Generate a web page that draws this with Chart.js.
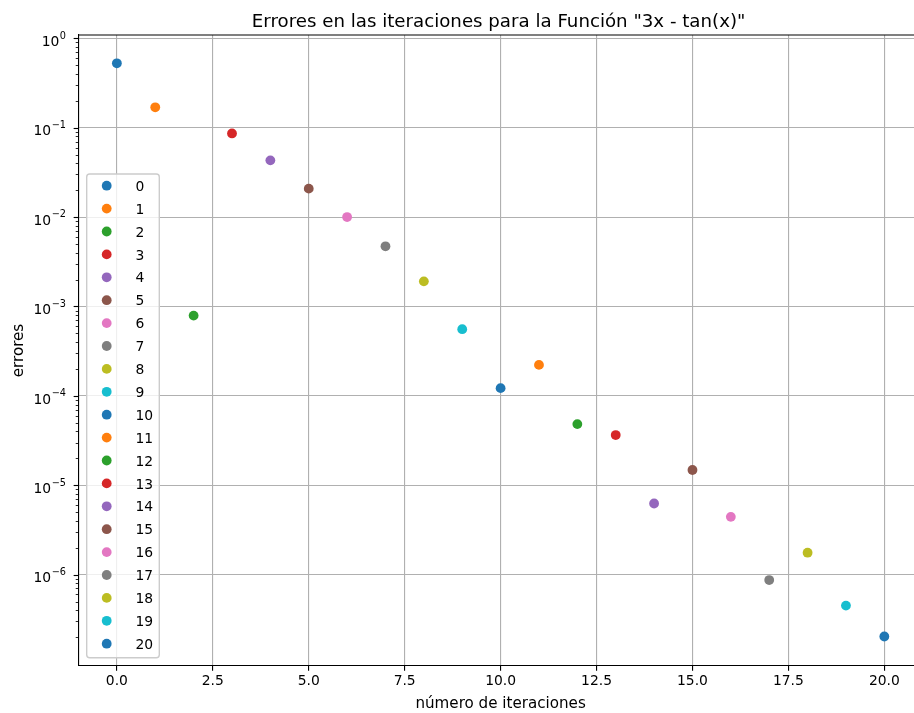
<!DOCTYPE html>
<html>
<head>
<meta charset="utf-8">
<title>Errores en las iteraciones</title>
<script src="https://cdn.jsdelivr.net/npm/chart.js@4/dist/chart.umd.min.js"></script>
<style>
    html, body { margin: 0; padding: 0; overflow: hidden; background: #fff; }
    canvas { display: block; }
</style>
</head>
<body>
<canvas id="chart" width="930" height="713" style="width:930px;height:713px"></canvas>
<script>
"use strict";

// DATA
const iterations = [0, 1, 2, 3, 4, 5, 6, 7, 8, 9, 10, 11, 12, 13, 14, 15, 16, 17, 18, 19, 20];
const errors = [
    0.525, 0.169, 7.9e-4, 0.0863, 0.0431, 0.0208, 0.0100, 0.00471, 0.00191, 5.57e-4,
    1.22e-4, 2.22e-4, 4.83e-5, 3.64e-5, 6.25e-6, 1.48e-5, 4.43e-6, 8.7e-7, 1.76e-6, 4.5e-7, 2.03e-7
];
const xTickValues = [0, 2.5, 5, 7.5, 10, 12.5, 15, 17.5, 20];
const yTickExponents = [0, -1, -2, -3, -4, -5, -6];

const TITLE = "Errores en las iteraciones para la Función \"3x - tan(x)\"";
const X_LABEL = "número de iteraciones";
const Y_LABEL = "errores";

// tab10
const COLORS = ["#1f77b4", "#ff7f0e", "#2ca02c", "#d62728", "#9467bd",
    "#8c564b", "#e377c2", "#7f7f7f", "#bcbd22", "#17becf"];

const FONT = "'DejaVu Sans', sans-serif";
const PT = 100 / 72;

// Axis limits (matplotlib style 5% margins)
const X_MIN = -1;
const X_MAX = 21;
const Y_MIN = 9.5e-8;
const Y_MAX = 1.089;

function drawYTicks(chart) {
    const { ctx } = chart;
    const y = chart.scales.y;
    const left = chart.chartArea.left;
    ctx.save();
    ctx.strokeStyle = "#000";
    // minor ticks
    ctx.lineWidth = 0.6 * PT;
    for (let e = -8; e <= 0; e++) {
        for (let k = 2; k <= 9; k++) {
            const v = k * Math.pow(10, e);
            if (v < Y_MIN || v > Y_MAX) {
                continue;
            }
            const py = Math.round(y.getPixelForValue(v)) + 0.5;
            ctx.beginPath();
            ctx.moveTo(left, py);
            ctx.lineTo(left - 2 * PT, py);
            ctx.stroke();
        }
    }
    // major ticks + labels
    ctx.lineWidth = 0.8 * PT;
    ctx.fillStyle = "#000";
    ctx.textBaseline = "alphabetic";
    const baseSize = 10 * PT;
    const supSize = baseSize * 0.7;
    for (const e of yTickExponents) {
        const py = y.getPixelForValue(Math.pow(10, e));
        ctx.beginPath();
        ctx.moveTo(left, Math.round(py) + 0.5);
        ctx.lineTo(left - 3.5 * PT, Math.round(py) + 0.5);
        ctx.stroke();

        const sup = e === 0 ? "0" : "\u2212" + String(-e);
        ctx.font = `${supSize}px ${FONT}`;
        const supW = ctx.measureText(sup).width;
        ctx.font = `${baseSize}px ${FONT}`;
        const baseW = ctx.measureText("10").width;
        const right = 66;
        ctx.textAlign = "left";
        ctx.fillText("10", right - supW - baseW - 0.5, py + 7.7);
        ctx.font = `${supSize}px ${FONT}`;
        ctx.fillText(sup, right - supW, py + 0.4);
    }
    ctx.restore();
}

function drawLegend(chart) {
    const { ctx } = chart;
    const x0 = 86.7;
    const y0 = 174;
    const w = 72.6;
    const h = 483.7;
    ctx.save();
    ctx.beginPath();
    ctx.roundRect(x0, y0, w, h, 3);
    ctx.fillStyle = "rgba(255,255,255,0.8)";
    ctx.fill();
    ctx.strokeStyle = "#cccccc";
    ctx.lineWidth = 1 * PT;
    ctx.stroke();

    ctx.font = `${10 * PT}px ${FONT}`;
    ctx.textAlign = "left";
    ctx.textBaseline = "alphabetic";
    chart.data.datasets.forEach((ds, i) => {
        const cy = 185.7 + i * 22.9;
        ctx.beginPath();
        ctx.arc(106.7, cy, 4.9, 0, Math.PI * 2);
        ctx.fillStyle = ds.backgroundColor;
        ctx.fill();
        ctx.fillStyle = "#000";
        ctx.fillText(ds.label, 135.5, cy + 5.1);
    });
    ctx.restore();
}

const decorPlugin = {
    id: "decor",
    afterDraw(chart) {
        const { ctx, chartArea } = chart;
        ctx.save();
        // top + right spines
        ctx.strokeStyle = "#000";
        ctx.lineWidth = 0.8 * PT;
        ctx.beginPath();
        ctx.moveTo(chartArea.left, chartArea.top);
        ctx.lineTo(chartArea.right, chartArea.top);
        ctx.lineTo(chartArea.right, chartArea.bottom);
        ctx.stroke();

        const cx = (chartArea.left + chartArea.right) / 2;
        ctx.fillStyle = "#000";
        ctx.textAlign = "center";
        ctx.textBaseline = "alphabetic";
        ctx.font = `${13.1 * PT}px ${FONT}`;
        ctx.fillText(TITLE, cx - 2, 26.7);

        ctx.font = `${10.9 * PT}px ${FONT}`;
        ctx.fillText(X_LABEL, cx, 708);

        ctx.translate(23, (chartArea.top + chartArea.bottom) / 2);
        ctx.rotate(-Math.PI / 2);
        ctx.fillText(Y_LABEL, 0, 0);
        ctx.restore();

        drawYTicks(chart);
        drawLegend(chart);
    }
};

const datasets = iterations.map((it, i) => ({
    label: String(it),
    data: [{ x: it, y: errors[i] }],
    backgroundColor: COLORS[i % COLORS.length],
    borderWidth: 0,
    pointRadius: 4.9
}));

const ctx = document.getElementById("chart").getContext("2d");
new Chart(ctx, {
    type: "scatter",
    data: { datasets },
    plugins: [decorPlugin],
    options: {
        responsive: false,
        animation: false,
        devicePixelRatio: 1,
        layout: { padding: { left: 0, top: 35, right: 7.3, bottom: 0 } },
        plugins: {
            legend: { display: false },
            title: { display: false },
            tooltip: { enabled: false }
        },
        scales: {
            x: {
                type: "linear",
                min: X_MIN,
                max: X_MAX,
                afterBuildTicks: (axis) => {
                    axis.ticks = xTickValues.map((v) => ({ value: v }));
                },
                afterFit: (axis) => {
                    axis.height = 47;
                },
                grid: {
                    color: "#b0b0b0",
                    lineWidth: 0.8 * PT,
                    tickColor: "#000",
                    tickLength: 3.5 * PT,
                    tickWidth: 0.8 * PT
                },
                border: { color: "#000", width: 0.8 * PT },
                ticks: {
                    color: "#000",
                    font: { family: FONT, size: 10 * PT },
                    padding: 2.6,
                    maxRotation: 0,
                    autoSkip: false,
                    callback: (v) => Number(v).toFixed(1)
                }
            },
            y: {
                type: "logarithmic",
                min: Y_MIN,
                max: Y_MAX,
                afterBuildTicks: (axis) => {
                    axis.ticks = yTickExponents.map((e) => ({ value: Math.pow(10, e), major: true }));
                },
                afterFit: (axis) => {
                    axis.width = 78.5;
                },
                grid: { color: "#b0b0b0", lineWidth: 0.8 * PT, drawTicks: false },
                border: { color: "#000", width: 0.8 * PT },
                ticks: { display: false }
            }
        }
    }
});
</script>
</body>
</html>
